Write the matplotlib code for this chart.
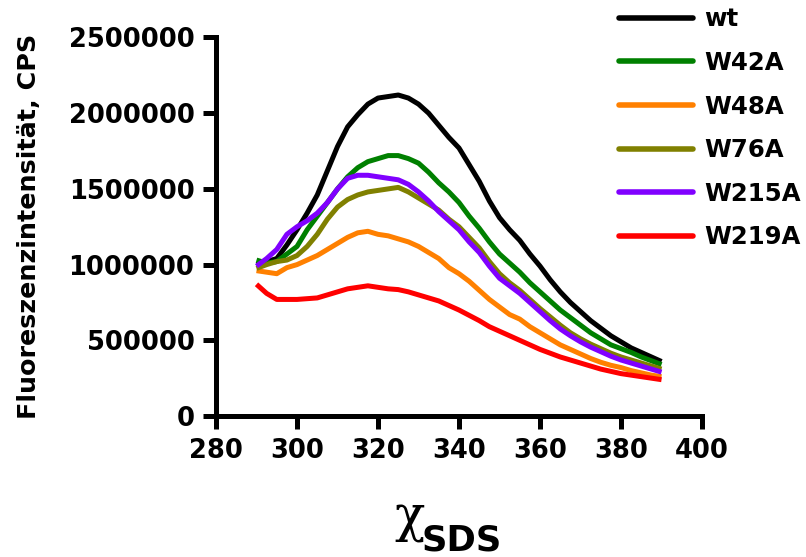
import matplotlib
matplotlib.use("Agg")
import matplotlib.pyplot as plt

# Emission wavelength grid (nm)
wavelength = [290, 292.5, 295, 297.5, 300, 302.5, 305, 307.5, 310, 312.5,
              315, 317.5, 320, 322.5, 325, 327.5, 330, 332.5, 335, 337.5,
              340, 342.5, 345, 347.5, 350, 352.5, 355, 357.5, 360, 362.5,
              365, 367.5, 370, 372.5, 375, 377.5, 380, 382.5, 385, 387.5, 390]

# Fluorescence intensity per variant, in millions of CPS
wt = [1.00, 1.02, 1.04, 1.13, 1.23, 1.34, 1.46, 1.62, 1.78, 1.91,
      1.99, 2.06, 2.10, 2.11, 2.12, 2.10, 2.06, 2.00, 1.92, 1.84,
      1.77, 1.66, 1.55, 1.42, 1.31, 1.23, 1.16, 1.07, 0.99, 0.90,
      0.82, 0.75, 0.69, 0.63, 0.58, 0.53, 0.49, 0.45, 0.42, 0.39, 0.36]
w42a = [1.03, 1.01, 1.02, 1.07, 1.12, 1.23, 1.32, 1.41, 1.50, 1.58,
        1.64, 1.68, 1.70, 1.72, 1.72, 1.70, 1.67, 1.61, 1.54, 1.48,
        1.41, 1.32, 1.24, 1.15, 1.07, 1.01, 0.95, 0.88, 0.82, 0.76,
        0.70, 0.65, 0.60, 0.55, 0.51, 0.47, 0.445, 0.42, 0.39, 0.365, 0.34]
w48a = [0.96, 0.95, 0.94, 0.98, 1.00, 1.03, 1.06, 1.10, 1.14, 1.18,
        1.21, 1.22, 1.20, 1.19, 1.17, 1.15, 1.12, 1.08, 1.04, 0.98,
        0.94, 0.89, 0.83, 0.77, 0.72, 0.67, 0.64, 0.59, 0.55, 0.51,
        0.47, 0.44, 0.41, 0.38, 0.355, 0.335, 0.32, 0.30, 0.285, 0.27, 0.26]
w76a = [0.975, 1.00, 1.02, 1.03, 1.06, 1.12, 1.20, 1.30, 1.38, 1.43,
        1.46, 1.48, 1.49, 1.50, 1.51, 1.48, 1.44, 1.40, 1.36, 1.30,
        1.25, 1.18, 1.11, 1.02, 0.94, 0.88, 0.83, 0.77, 0.71, 0.655,
        0.60, 0.55, 0.51, 0.475, 0.445, 0.415, 0.39, 0.37, 0.35, 0.33, 0.31]
w215a = [0.99, 1.04, 1.10, 1.20, 1.25, 1.29, 1.34, 1.41, 1.50, 1.57,
         1.59, 1.59, 1.58, 1.57, 1.56, 1.53, 1.48, 1.42, 1.35, 1.29,
         1.23, 1.15, 1.08, 0.99, 0.91, 0.86, 0.81, 0.75, 0.69, 0.63,
         0.575, 0.53, 0.49, 0.455, 0.425, 0.395, 0.37, 0.35, 0.33, 0.31, 0.29]
w219a = [0.87, 0.81, 0.77, 0.77, 0.77, 0.775, 0.78, 0.80, 0.82, 0.84,
         0.85, 0.86, 0.85, 0.84, 0.835, 0.82, 0.80, 0.78, 0.76, 0.73,
         0.70, 0.665, 0.63, 0.59, 0.56, 0.53, 0.50, 0.47, 0.44, 0.415,
         0.39, 0.37, 0.35, 0.33, 0.31, 0.295, 0.28, 0.27, 0.26, 0.25, 0.24]

labels = ["wt", "W42A", "W48A", "W76A", "W215A", "W219A"]
series = [wt, w42a, w48a, w76a, w215a, w219a]
colors = ["#000000", "#008000", "#FF8000", "#808000", "#8000FF", "#FF0000"]

x_ticks = [280, 300, 320, 340, 360, 380, 400]
y_ticks = [0, 500000, 1000000, 1500000, 2000000, 2500000]

plt.rcParams["font.family"] = ["DejaVu Sans"]
plt.rcParams["font.weight"] = "bold"

fig = plt.figure(figsize=(8.06, 5.57), dpi=100)
ax = fig.add_axes([0.268, 0.2531, 0.871 - 0.268, 0.9327 - 0.2531])

for vals, lab, c in zip(series, labels, colors):
    ax.plot(wavelength, [v * 1e6 for v in vals], color=c, lw=3.6, label=lab,
            solid_joinstyle="round", solid_capstyle="butt")

ax.set_xlim(280, 400)
ax.set_ylim(0, 2500000)
ax.set_xticks(x_ticks)
ax.set_yticks(y_ticks)
ax.set_xticklabels([str(v) for v in x_ticks])
ax.set_yticklabels([str(v) for v in y_ticks])

for side in ("top", "right"):
    ax.spines[side].set_visible(False)
for side in ("left", "bottom"):
    ax.spines[side].set_linewidth(3.6)
    ax.spines[side].set_capstyle("projecting")

ax.tick_params(axis="both", direction="out", length=9.5, width=3.6,
               labelsize=18.5, pad=6)
for t in ax.get_xticklabels() + ax.get_yticklabels():
    t.set_fontweight("bold")

ax.set_ylabel("Fluoreszenzintensität, CPS", fontsize=18.3, fontweight="bold")
ax.yaxis.set_label_coords(-0.36, 0.5)

# Axis title: chi with subscript SDS
fig.text(0.5265, 0.048, "χ", fontsize=36, fontweight="normal",
         ha="right", va="baseline", family="DejaVu Serif")
fig.text(0.5235, 0.012, "SDS", fontsize=25.5, fontweight="bold",
         ha="left", va="baseline")

leg = ax.legend(loc="upper left", bbox_to_anchor=(0.7655, 0.991),
                bbox_transform=fig.transFigure, frameon=False,
                fontsize=17.6, handlelength=3.0, handletextpad=0.45,
                labelspacing=0.8, borderaxespad=0, borderpad=0.1)
for line in leg.get_lines():
    line.set_solid_capstyle("round")
    line.set_linewidth(4)
for t in leg.get_texts():
    t.set_fontweight("bold")

fig.savefig("out.png", dpi=100)
